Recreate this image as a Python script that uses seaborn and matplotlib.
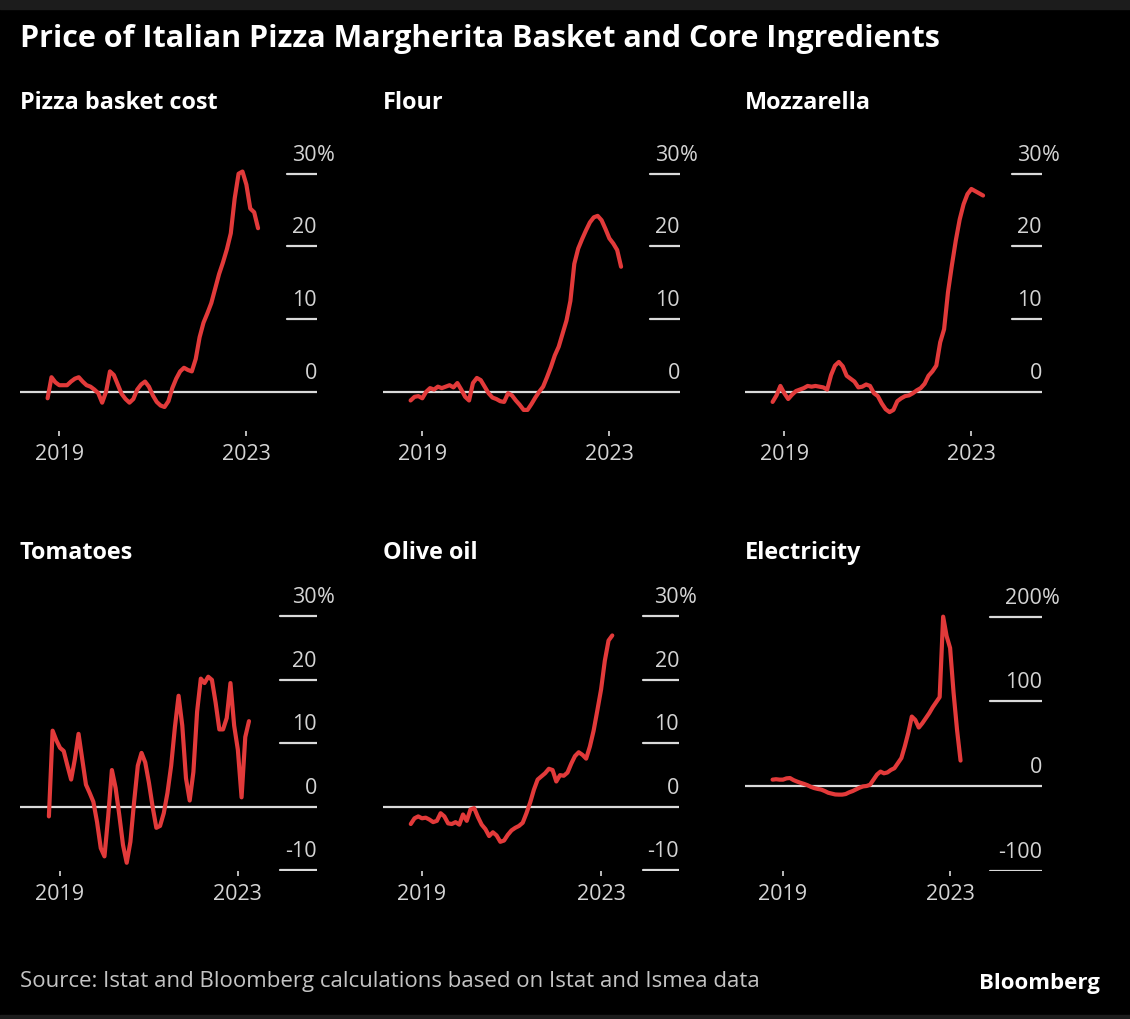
import numpy as np
import pandas as pd
import matplotlib
matplotlib.use("Agg")
import matplotlib.pyplot as plt
from matplotlib.patches import Rectangle
import seaborn as sns

# Monthly year-on-year price change, Oct 2018 - Apr 2023 (%)
months = pd.date_range("2018-10-01", "2023-04-01", freq="MS")

pizza_basket = [-0.9, 2.0, 1.3, 0.9, 0.9, 0.9, 1.4, 1.8, 2.0, 1.4, 0.9, 0.7, 0.3, -0.2,
                -1.5, 0.0, 2.8, 2.3, 1.0, -0.3, -1.0, -1.5, -1.0, 0.3, 1.0, 1.4, 0.7, -0.5,
                -1.4, -1.9, -2.1, -1.3, 0.5, 1.8, 2.8, 3.3, 3.0, 2.8, 4.5, 7.5, 9.5, 10.8,
                12.2, 14.2, 16.2, 17.8, 19.6, 21.8, 26.6, 30.0, 30.3, 28.5, 25.2, 24.7, 22.5]
flour = [-1.2, -0.7, -0.6, -0.9, 0.0, 0.5, 0.3, 0.7, 0.5, 0.7, 0.9, 0.6, 1.2, 0.3,
         -0.7, -1.2, 1.2, 1.9, 1.6, 0.7, -0.2, -0.8, -1.0, -1.3, -1.4, -0.2, -0.5, -1.2,
         -1.8, -2.5, -2.5, -1.7, -0.8, 0.0, 0.7, 2.0, 3.4, 5.0, 6.2, 8.0, 9.8, 12.5,
         17.6, 19.7, 21.0, 22.2, 23.3, 24.0, 24.2, 23.6, 22.4, 21.1, 20.4, 19.5, 17.2]
mozzarella = [-1.4, -0.5, 0.8, -0.2, -1.0, -0.4, 0.1, 0.3, 0.5, 0.8, 0.7, 0.8, 0.7, 0.6,
              0.3, 2.3, 3.6, 4.1, 3.5, 2.2, 1.8, 1.4, 0.6, 0.7, 1.0, 0.8, -0.2, -0.6,
              -1.6, -2.4, -2.8, -2.5, -1.3, -0.9, -0.6, -0.5, -0.2, 0.2, 0.5, 1.1, 2.2, 2.8,
              3.6, 6.8, 8.6, 13.7, 17.4, 20.8, 23.7, 25.8, 27.2, 27.9, 27.6, 27.3, 27.0]
tomatoes = [-1.5, 12.0, 10.5, 9.3, 8.8, 6.5, 4.3, 7.5, 11.5, 7.5, 3.5, 2.2, 0.8, -2.4,
            -6.5, -7.8, -1.5, 5.8, 3.0, -1.3, -6.0, -8.8, -5.5, 0.8, 6.5, 8.5, 7.0, 3.8,
            0.0, -3.3, -3.0, -1.0, 2.2, 6.5, 12.5, 17.5, 12.8, 4.5, 1.0, 5.5, 15.0, 20.2,
            19.5, 20.5, 20.0, 16.4, 12.2, 12.2, 14.0, 19.5, 12.8, 9.0, 1.5, 11.0, 13.5]
olive_oil = [-2.7, -1.8, -1.5, -1.8, -1.7, -2.0, -2.4, -2.2, -1.0, -1.5, -2.6, -2.7, -2.4, -2.8,
             -1.2, -2.2, -0.4, -0.2, -1.6, -2.8, -3.5, -4.6, -4.0, -4.5, -5.5, -5.3, -4.4, -3.7,
             -3.3, -3.0, -2.5, -1.0, 0.7, 2.7, 4.3, 4.8, 5.3, 6.0, 5.8, 4.0, 5.0, 4.9,
             5.4, 6.8, 8.0, 8.6, 8.2, 7.6, 9.5, 12.0, 15.2, 18.5, 23.0, 26.2, 27.0]
electricity = [7.5, 8.0, 7.5, 7.5, 9.0, 9.4, 7.0, 5.3, 3.8, 2.5, 1.0, -1.0, -2.5, -3.5,
               -4.3, -6.0, -8.0, -9.0, -10.0, -10.2, -10.2, -9.5, -7.5, -6.0, -4.0, -2.0, -0.5, 0.0,
               1.5, 7.5, 13.5, 17.0, 15.0, 16.0, 19.0, 21.0, 27.0, 33.0, 47.0, 63.0, 82.0, 78.0,
               69.0, 74.0, 80.0, 86.0, 93.0, 99.0, 105.0, 200.0, 177.0, 163.0, 110.0, 66.0, 30.0]

panel_titles = ["Pizza basket cost", "Flour", "Mozzarella", "Tomatoes", "Olive oil", "Electricity"]
panel_series = [pizza_basket, flour, mozzarella, tomatoes, olive_oil, electricity]
panel_gridlines = [[30, 20, 10], [30, 20, 10], [30, 20, 10],
                   [30, 20, 10, -10], [30, 20, 10, -10], [200, 100, -100]]
tick_years = [2019, 2023]

title = "Price of Italian Pizza Margherita Basket and Core Ingredients"
source = "Source: Istat and Bloomberg calculations based on Istat and Ismea data"

# ---- styling / layout ----
W, H = 1130, 1020
BG = "#000000"
RED = "#e23a3a"
GRID = "#dadada"
TXT = "#d4d4d4"

sns.set_style("dark", {"axes.facecolor": BG, "figure.facecolor": BG})
plt.rcParams["font.family"] = ["Open Sans", "DejaVu Sans"]

fig = plt.figure(figsize=(W / 100, H / 100), dpi=100, facecolor=BG)

def box(left, top, right, bottom):
    return [left / W, 1 - bottom / H, (right - left) / W, (bottom - top) / H]

# per-panel geometry: pixel box, x limits, y limits, short-gridline start, title baseline
layout = [
    (box(20, 150, 317, 432), (2018.16, 2024.51), (-5.4, 33.4), 0.90, 109),
    (box(383, 150, 680, 432), (2018.16, 2024.51), (-5.4, 33.4), 0.90, 109),
    (box(745, 150, 1042, 432), (2018.16, 2024.51), (-5.4, 33.4), 0.90, 109),
    (box(20, 592, 317, 872), (2018.10, 2024.78), (-10.1, 34.0), 0.875, 559),
    (box(383, 592, 679, 872), (2018.13, 2024.74), (-10.1, 34.0), 0.878, 559),
    (box(745, 592, 1042, 872), (2018.09, 2025.20), (-100.4, 230.3), 0.825, 559),
]

xdec = months.year + (months.month - 1) / 12.0

for name, vals, grids, (rect, xlim, ylim, gx, tb) in zip(
        panel_titles, panel_series, panel_gridlines, layout):
    ax = fig.add_axes(rect)
    ax.set_facecolor(BG)
    df = pd.DataFrame({"date": xdec, "change": vals})
    ax.axhline(0, color=GRID, lw=1.6, zorder=1)
    for g in grids:
        ax.axhline(g, xmin=gx, xmax=1, color=GRID, lw=1.6, zorder=1)
    sns.lineplot(data=df, x="date", y="change", ax=ax, color=RED,
                 linewidth=3.0, zorder=3)
    ax.set_xlim(*xlim)
    ax.set_ylim(*ylim)
    for s in ax.spines.values():
        s.set_visible(False)
    ax.grid(False)
    ax.set_xlabel("")
    ax.set_ylabel("")
    ax.set_yticks([])
    ax.set_xticks(tick_years)
    ax.set_xticklabels([str(y) for y in tick_years])
    ax.tick_params(axis="x", length=3.6, width=1.2, color=GRID, labelcolor=TXT,
                   labelsize=15.5, pad=5, bottom=True, direction="out")
    top = max(grids)
    for g in sorted(set(grids + [0])):
        ax.annotate(str(g), xy=(1, g), xycoords=("axes fraction", "data"),
                    xytext=(0, 14), textcoords="offset pixels", ha="right",
                    va="baseline", fontsize=15.5, color=TXT, annotation_clip=False)
        if g == top:
            ax.annotate("%", xy=(1, g), xycoords=("axes fraction", "data"),
                        xytext=(0, 14), textcoords="offset pixels", ha="left",
                        va="baseline", fontsize=15.5, color=TXT, annotation_clip=False)
    fig.text(rect[0], 1 - tb / H, name, fontsize=16.8, fontweight="bold",
             color="white", ha="left", va="baseline")

fig.text(20 / W, 1 - 47 / H, title, fontsize=22, fontweight="bold",
         color="white", ha="left", va="baseline")
fig.text(20 / W, 1 - 987 / H, source, fontsize=16, color="#c4c4c4",
         ha="left", va="baseline")
fig.text(1100 / W, 1 - 989 / H, "Bloomberg", fontsize=16, fontweight="bold",
         color="white", ha="right", va="baseline")

# thin grey bands along the top and bottom edges
fig.patches.append(Rectangle((0, 1 - 10 / H), 1, 10 / H, transform=fig.transFigure,
                             color="#1c1c1c", zorder=0))
fig.patches.append(Rectangle((0, 0), 1, 4 / H, transform=fig.transFigure,
                             color="#1c1c1c", zorder=0))

fig.savefig("out.png", dpi=100, facecolor=BG)
